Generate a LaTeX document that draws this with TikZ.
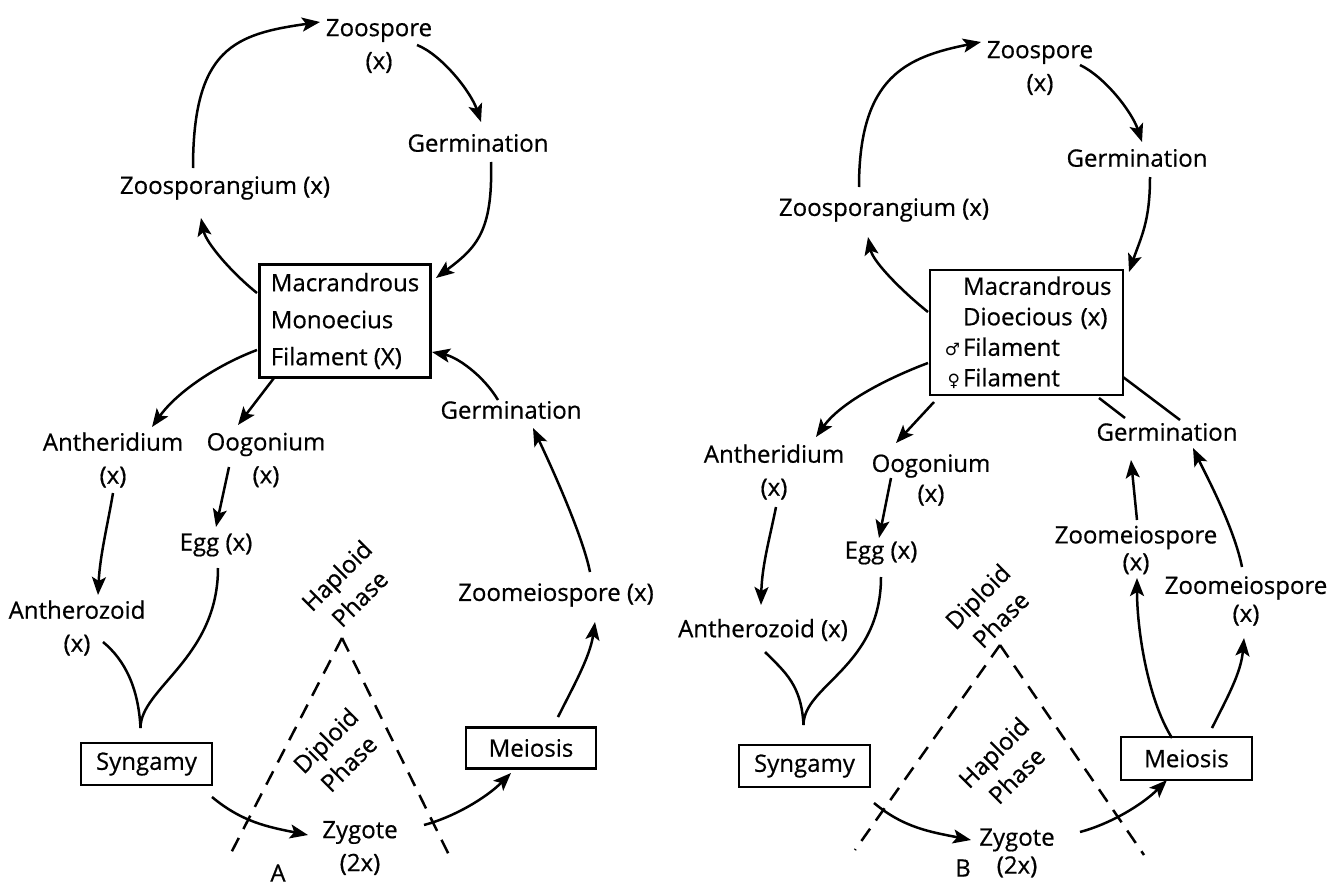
\documentclass[tikz,border=0pt]{standalone}
\usepackage{fontspec}
\setmainfont{Open Sans}[FakeBold=0.6]
\newfontfamily\symf{DejaVu Sans}
\usetikzlibrary{arrows.meta}
\begin{document}
\begin{tikzpicture}[x=1pt,y=-1pt,
  lbl/.style={inner sep=0pt, align=center, font=\fontsize{24}{33}\selectfont},
  boxnode/.style={draw, line width=2.6pt, inner sep=0pt, font=\fontsize{24}{33}\selectfont},
  con/.style={line width=2.5pt, -{Stealth[length=18pt,width=14pt,inset=4pt]}},
  plain/.style={line width=2.5pt},
  phase/.style={line width=2.5pt, dash pattern=on 15pt off 10pt},
  rot/.style={inner sep=0pt, align=center, rotate=45, font=\fontsize{24}{32.5}\selectfont}
]
\fill[white] (0,0) rectangle (1342,889);
\path[use as bounding box] (0,0) rectangle (1342,889);

% ---------------- Diagram A ----------------
\node[lbl] (zsA) at (379,46) {Zoospore\\(x)};
\node[lbl] (gtA) at (478,143) {Germination};
\node[lbl] (zgA) at (225,188) {Zoosporangium (x)};
\node[boxnode, minimum width=171pt, minimum height=113pt, align=left, font=\fontsize{24}{37}\selectfont] (boxA) at (345,321) {Macrandrous\\Monoecius\\Filament (X)};
\node[lbl] (anA) at (113,460) {Antheridium\\(x)};
\node[lbl] (ooA) at (266,460) {Oogonium\\(x)};
\node[lbl] (eggA) at (216,545) {Egg (x)};
\node[lbl] (azA) at (77,628) {Antherozoid\\(x)};
\node[lbl] (grA) at (511,410) {Germination};
\node[lbl] (zmA) at (556,595) {Zoomeiospore (x)};
\node[boxnode, minimum width=131pt, minimum height=42pt] (synA) at (146.5,764) {Syngamy};
\node[boxnode, minimum width=130pt, minimum height=41pt] (meiA) at (531,748) {Meiosis};
\node[lbl] (zyA) at (360,848) {Zygote\\(2x)};
\node[lbl] (labA) at (278,873) {A};
\node[rot] (hapA) at (348,587) {Haploid\\Phase};
\node[rot] (dipA) at (337,752) {Diploid\\Phase};

\draw[phase] (342,638) -- (231,853);
\draw[phase] (342,638) -- (449,855);

\draw[con] ([shift={(-32,-20)}]zgA.center) .. controls +(0,-120) and +(-85,12) .. ([shift={(-59,-24)}]zsA.center);
\draw[con] ([shift={(38,-1)}]zsA.center) .. controls +(25,10) and +(-10,-30) .. ([shift={(3,-21)}]gtA.center);
\draw[con] ([shift={(13,19)}]gtA.center) .. controls +(2,70) and +(40,-30) .. ([shift={(91,-43)}]boxA.center);
\draw[con] ([shift={(-88,-28)}]boxA.center) .. controls +(-25,-20) and +(5,25) .. ([shift={(-24,30)}]zgA.center);
\draw[con] ([shift={(-88,29)}]boxA.center) .. controls +(-40,15) and +(25,-35) .. ([shift={(39,-33)}]anA.center);
\draw[con] ([shift={(-71,57)}]boxA.center) -- ([shift={(-28,-35)}]ooA.center);
\draw[con] ([shift={(0,33)}]anA.center) .. controls +(-5,30) and +(2,-40) .. ([shift={(21,-33)}]azA.center);
\draw[con] ([shift={(-37,7)}]ooA.center) -- ([shift={(0,-18)}]eggA.center);
\coordinate (vA) at ([shift={(-6,-36)}]synA.center);
\draw[plain] ([shift={(26,14)}]azA.center) .. controls +(22,18) and +(-2,-40) .. (vA);
\draw[plain] ([shift={(2,23)}]eggA.center) .. controls +(0,90) and +(0,-40) .. (vA);
\draw[con] ([shift={(65.5,33)}]synA.center) .. controls +(30,25) and +(-40,-8) .. ([shift={(-52,-13)}]zyA.center);
\draw[con] ([shift={(64,-23)}]zyA.center) .. controls +(30,-8) and +(-25,25) .. ([shift={(-20,25)}]meiA.center);
\draw[con] ([shift={(27,-31)}]meiA.center) .. controls +(15,-30) and +(-5,35) .. ([shift={(39,27)}]zmA.center);
\draw[con] ([shift={(34,-23)}]zmA.center) .. controls +(-8,-40) and +(12,25) .. ([shift={(22,18)}]grA.center);
\draw[con] ([shift={(-13,-10)}]grA.center) .. controls +(-15,-25) and +(25,5) .. ([shift={(87,31)}]boxA.center);

% ---------------- Diagram B ----------------
\node[lbl] (zsB) at (1040,68) {Zoospore\\(x)};
\node[lbl] (gtB) at (1137,158) {Germination};
\node[lbl] (zgB) at (884,210) {Zoosporangium (x)};
\node[boxnode, minimum width=193pt, minimum height=125pt, align=left, text width=175pt, font=\fontsize{24}{30.5}\selectfont] (boxB) at (1026.5,332.5)
  {\hspace*{24pt}Macrandrous\\
   \hspace*{24pt}Dioecious (x)\\
   \hspace*{24pt}\llap{\symf\fontsize{17}{17}\selectfont ♂\,}Filament\\
   \hspace*{24pt}\llap{\symf\fontsize{17}{17}\selectfont ♀\,}Filament};
\node[lbl] (anB) at (774,472) {Antheridium\\(x)};
\node[lbl, font=\fontsize{24}{30}\selectfont] (ooB) at (931,480) {Oogonium\\(x)};
\node[lbl] (eggB) at (881,553) {Egg (x)};
\node[lbl] (azB) at (763,630) {Antherozoid (x)};
\node[lbl] (grB) at (1167,432) {Germination};
\node[lbl, font=\fontsize{24}{27}\selectfont] (zm1B) at (1136,550) {Zoomeiospore\\(x)};
\node[lbl, font=\fontsize{24}{28}\selectfont] (zm2B) at (1246,601) {Zoomeiospore\\(x)};
\node[boxnode, minimum width=131pt, minimum height=42pt] (synB) at (804.5,766) {Syngamy};
\node[boxnode, minimum width=131pt, minimum height=43pt] (meiB) at (1186.5,758.5) {Meiosis};
\node[lbl, font=\fontsize{24}{28}\selectfont] (zyB) at (1017,853) {Zygote\\(2x)};
\node[lbl] (labB) at (963,868) {B};
\node[rot] (dipB) at (989,608) {Diploid\\Phase};
\node[rot] (hapB) at (1005,764) {Haploid\\Phase};

\draw[phase] (1000,645) -- (855,850);
\draw[phase] (1000,645) -- (1144,855);

\draw[con] ([shift={(-25,-23)}]zgB.center) .. controls +(0,-110) and +(-75,15) .. ([shift={(-59,-26)}]zsB.center);
\draw[con] ([shift={(40,-3)}]zsB.center) .. controls +(25,12) and +(-10,-30) .. ([shift={(5,-16)}]gtB.center);
\draw[con] ([shift={(13,19)}]gtB.center) .. controls +(0,45) and +(12,-35) .. ([shift={(102.5,-60.5)}]boxB.center);
\draw[con] ([shift={(-98.5,-20.5)}]boxB.center) .. controls +(-25,-20) and +(5,25) .. ([shift={(-16,27)}]zgB.center);
\draw[con] ([shift={(-98.5,30.5)}]boxB.center) .. controls +(-40,15) and +(25,-35) .. ([shift={(42,-35)}]anB.center);
\draw[con] ([shift={(-92.5,69.5)}]boxB.center) -- ([shift={(-35,-37)}]ooB.center);
\draw[con] ([shift={(2,35)}]anB.center) .. controls +(-6,30) and +(1,-40) .. ([shift={(-2,-25)}]azB.center);
\draw[con] ([shift={(-40,-2)}]ooB.center) -- ([shift={(-2,-15)}]eggB.center);
\coordinate (vB) at ([shift={(-1,-41)}]synB.center);
\draw[plain] ([shift={(2,22)}]azB.center) .. controls +(20,20) and +(-2,-40) .. (vB);
\draw[plain] ([shift={(0,24)}]eggB.center) .. controls +(0,90) and +(0,-40) .. (vB);
\draw[con] ([shift={(69.5,37)}]synB.center) .. controls +(30,25) and +(-40,-8) .. ([shift={(-46,-13)}]zyB.center);
\draw[con] ([shift={(63,-21)}]zyB.center) .. controls +(30,-8) and +(-25,25) .. ([shift={(-19.5,21.5)}]meiB.center);
\draw[con] ([shift={(-14.5,-20.5)}]meiB.center) .. controls +(-25,-40) and +(0,50) .. ([shift={(1,28)}]zm1B.center);
\draw[con] ([shift={(25.5,-30.5)}]meiB.center) .. controls +(15,-30) and +(-3,35) .. ([shift={(-2,37)}]zm2B.center);
\draw[con] ([shift={(1,-30)}]zm1B.center) -- ([shift={(-36,28)}]grB.center);
\draw[con] ([shift={(-4,-34)}]zm2B.center) .. controls +(-8,-40) and +(12,25) .. ([shift={(26,16)}]grB.center);
\draw[plain] ([shift={(13,-12)}]grB.center) -- ([shift={(96.5,44.5)}]boxB.center);
\draw[plain] ([shift={(-42,-14)}]grB.center) -- ([shift={(72.5,65.5)}]boxB.center);
\end{tikzpicture}
\end{document}
